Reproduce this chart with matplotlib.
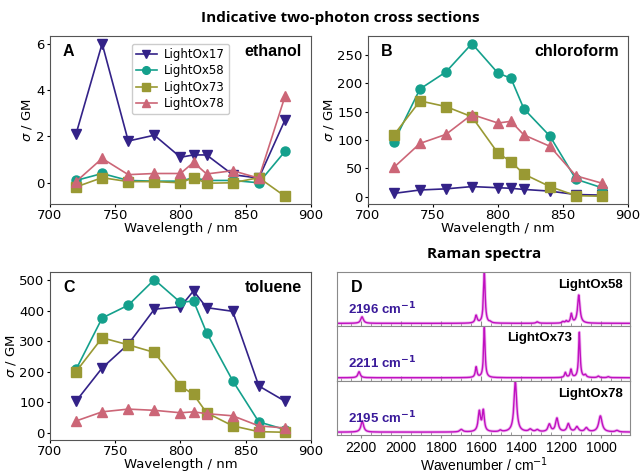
import matplotlib.pyplot as plt
import numpy as np

wavelength = [720, 740, 760, 780, 800, 810, 820, 840, 860, 880]
names = ["LightOx17", "LightOx58", "LightOx73", "LightOx78"]

ethanol = {
    "LightOx17": [2.1, 6.0, 1.8, 2.05, 1.1, 1.2, 1.2, 0.35, 0.2, 2.7],
    "LightOx58": [0.1, 0.4, 0.1, 0.07, 0.07, 0.22, 0.1, 0.1, 0.0, 1.35],
    "LightOx73": [-0.18, 0.22, 0.05, 0.05, 0.0, 0.22, -0.02, 0.0, 0.22, -0.58],
    "LightOx78": [0.05, 1.05, 0.35, 0.4, 0.4, 0.88, 0.38, 0.52, 0.2, 3.72],
}
chloroform = {
    "LightOx17": [6, 12, 14, 18, 16, 15, 13, 10, 4, 3],
    "LightOx58": [97, 190, 220, 270, 218, 209, 155, 107, 31, 16],
    "LightOx73": [109, 169, 159, 141, 77, 62, 40, 18, 2, 1],
    "LightOx78": [52, 94, 110, 145, 130, 133, 109, 89, 37, 24],
}
toluene = {
    "LightOx17": [103, 212, 290, 405, 413, 465, 410, 398, 153, 103],
    "LightOx58": [207, 376, 418, 502, 427, 432, 328, 170, 35, 10],
    "LightOx73": [200, 311, 288, 263, 153, 125, 65, 22, 3, 1],
    "LightOx78": [38, 68, 77, 73, 65, 68, 62, 55, 22, 15],
}

colors = {"LightOx17": "#332288", "LightOx58": "#14A08C",
          "LightOx73": "#999933", "LightOx78": "#CC6677"}
markers = {"LightOx17": "v", "LightOx58": "o", "LightOx73": "s", "LightOx78": "^"}

# Raman peaks: position (cm-1), relative height, half width
raman_names = ["LightOx58", "LightOx73", "LightOx78"]
raman_alkyne = ["2196", "2211", "2195"]
peaks58_pos = [2196, 1626, 1585, 1555, 1320, 1192, 1175, 1150, 1113]
peaks58_amp = [0.13, 0.15, 1.0, 0.02, 0.03, 0.03, 0.04, 0.18, 0.56]
peaks58_w = [8, 6, 5, 6, 7, 6, 5, 5, 7]
peaks73_pos = [2211, 1626, 1585, 1180, 1152, 1110, 1080, 1015, 965]
peaks73_amp = [0.12, 0.21, 1.0, 0.1, 0.16, 0.9, 0.05, 0.03, 0.02]
peaks73_w = [7, 5, 4.5, 5, 5, 4.5, 6, 6, 6]
peaks78_pos = [2195, 1700, 1610, 1590, 1505, 1430, 1355, 1320, 1260, 1222, 1165, 1122, 1075, 1005, 922]
peaks78_amp = [0.22, 0.05, 0.4, 0.41, 0.03, 1.0, 0.05, 0.04, 0.15, 0.27, 0.16, 0.1, 0.08, 0.32, 0.03]
peaks78_w = [8, 9, 7, 6, 7, 8, 9, 9, 8, 8, 8, 9, 9, 10, 9]
raman_peaks = [(peaks58_pos, peaks58_amp, peaks58_w),
               (peaks73_pos, peaks73_amp, peaks73_w),
               (peaks78_pos, peaks78_amp, peaks78_w)]

fig = plt.figure(figsize=(6.4, 4.73), dpi=100)

fig.text(0.531, 0.962, "Indicative two-photon cross sections", ha="center", va="center",
         fontsize=11, fontweight="bold", family="Open Sans")
fig.text(0.757, 0.463, "Raman spectra", ha="center", va="center",
         fontsize=11, fontweight="bold", family="Open Sans")

panels = [
    ([0.078, 0.569, 0.408, 0.355], ethanol, "A", "ethanol"),
    ([0.575, 0.569, 0.406, 0.355], chloroform, "B", "chloroform"),
    ([0.078, 0.070, 0.408, 0.355], toluene, "C", "toluene"),
]
for rect, data, letter, solvent in panels:
    ax = fig.add_axes(rect)
    for nm in names:
        ax.plot(wavelength, data[nm], color=colors[nm], marker=markers[nm],
                markersize=6.5, lw=1.2, label=nm)
    ax.set_xlim(700, 900)
    ax.set_xticks([700, 750, 800, 850, 900])
    ax.set_xlabel("Wavelength / nm", fontsize=9.5, labelpad=0)
    ax.set_ylabel(r"$\sigma$ / GM", fontsize=9.5, labelpad=1)
    ax.tick_params(labelsize=9.5, length=2.5, pad=1.5)
    for s in ax.spines.values():
        s.set_color("#555555")
    ax.text(0.05, 0.905, letter, transform=ax.transAxes, fontsize=11.5,
            fontweight="bold", va="center", ha="left", family="Liberation Sans")
    ax.text(0.965, 0.905, solvent, transform=ax.transAxes, fontsize=11.5,
            fontweight="bold", va="center", ha="right", family="Liberation Sans")
    if letter == "A":
        ax.legend(loc="upper left", bbox_to_anchor=(0.29, 0.99), fontsize=8.5,
                  handlelength=1.8, handletextpad=0.6, markerscale=0.85,
                  borderpad=0.35, labelspacing=0.3, framealpha=1)

# Raman spectra panel
wn = np.linspace(850, 2330, 3000)
d_left, d_bottom, d_width, d_height = 0.527, 0.08, 0.458, 0.345
sub_h = d_height / 3
for i, nm in enumerate(raman_names):
    ax = fig.add_axes([d_left, d_bottom + (2 - i) * sub_h, d_width, sub_h])
    pos, amp, w = raman_peaks[i]
    spec = np.zeros_like(wn)
    for p, a, g in zip(pos, amp, w):
        spec += a * g ** 2 / ((wn - p) ** 2 + g ** 2)
    ax.plot(wn, spec, color="#E070E0", lw=2.2, alpha=0.5)
    ax.plot(wn, spec, color="#C010C0", lw=1.0)
    ax.set_xlim(2320, 855)
    ax.set_ylim(-0.06, 1.02)
    ax.set_yticks([])
    for s in ax.spines.values():
        s.set_color("#8a8a8a")
    ax.set_xticks(np.arange(1000, 2201, 200))
    ax.set_xticks(np.arange(900, 2321, 50), minor=True)
    ax.tick_params(axis="x", which="minor", direction="in", length=2.5, color="#8a8a8a")
    if i < 2:
        ax.tick_params(axis="x", which="major", direction="in", length=3.5,
                       color="#8a8a8a", labelbottom=False)
    else:
        ax.tick_params(axis="x", which="major", length=2.5, pad=2, color="#8a8a8a",
                       labelsize=10)
        for lab in ax.get_xticklabels():
            lab.set_family("Liberation Sans")
        ax.set_xlabel("Wavenumber / cm" + r"$^{-1}$", fontsize=10, labelpad=0,
                      family="Liberation Sans")
    ax.text(0.035, 0.32, raman_alkyne[i] + " cm" + r"$^{\mathbf{-1}}$",
            transform=ax.transAxes, fontsize=9.5, fontweight="bold", color="#3A1A9A",
            va="center", ha="left", family="Liberation Sans")
    if i == 1:
        ax.text(0.69, 0.78, nm, transform=ax.transAxes, fontsize=9.5,
                fontweight="bold", va="center", ha="center", family="Liberation Sans")
    else:
        ax.text(0.975, 0.76, nm, transform=ax.transAxes, fontsize=9.5,
                fontweight="bold", va="center", ha="right", family="Liberation Sans")
    if i == 0:
        ax.text(0.045, 0.71, "D", transform=ax.transAxes, fontsize=11.5,
                fontweight="bold", va="center", ha="left", family="Liberation Sans")

fig.savefig("out.png", dpi=100)
